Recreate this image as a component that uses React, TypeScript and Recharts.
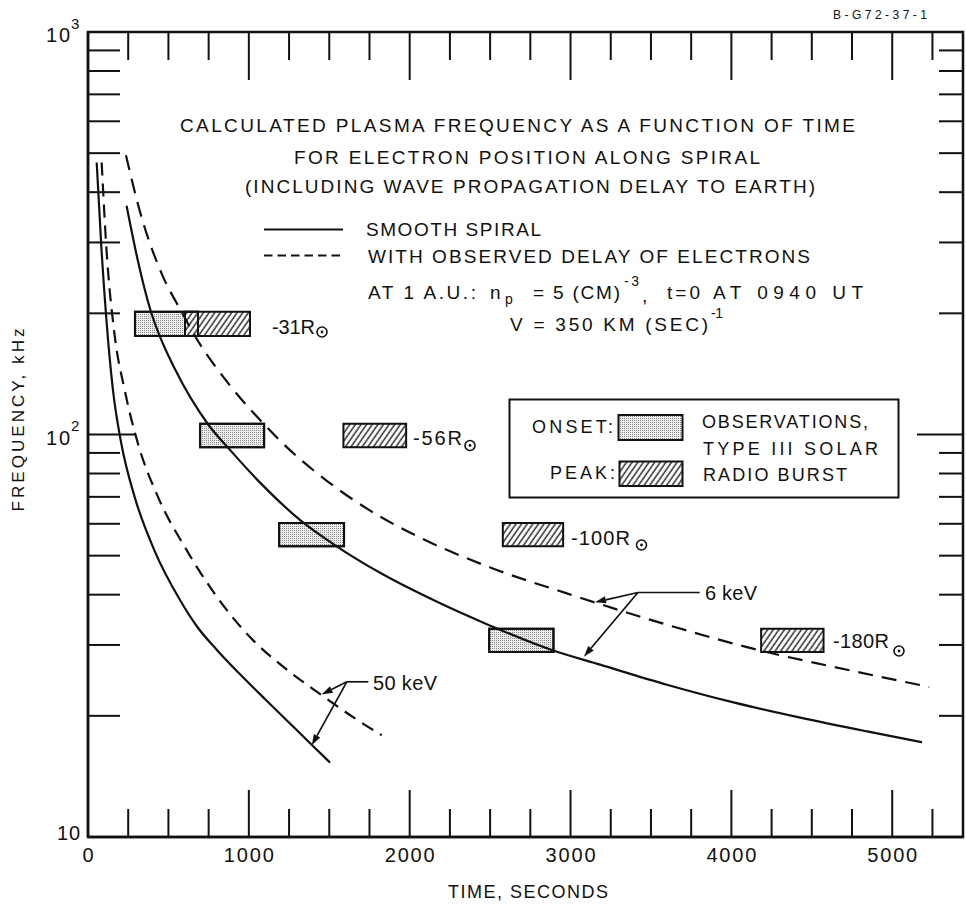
import React from 'react';
import { LineChart, Line, XAxis, YAxis, ReferenceArea, ReferenceLine } from 'recharts';

// ---------- data (time in seconds, frequency in kHz) ----------
const s50Time = [54, 83, 114, 155, 207, 290, 414, 572, 680, 800, 950, 1111, 1381, 1505];
const s50Freq = [474, 292, 194, 129, 95, 70, 51.4, 38.8, 33.25, 29.2, 25.26, 21.8, 17.1, 15.3];
const d50Time = [85, 114, 166, 228, 311, 435, 616, 830, 1027, 1213, 1453, 1669, 1826];
const d50Freq = [474, 292, 176, 129, 94.8, 70, 51.4, 38.1, 30.8, 26.5, 22.5, 19.6, 17.9];
const s6Time = [240, 306, 393, 445, 538, 745, 891, 1076, 1325, 1532, 1830, 2170, 2494, 2888, 3184, 3599, 4013, 4428, 4843, 5185];
const s6Freq = [370, 275, 201, 176, 146, 106.2, 90.8, 75.5, 61.0, 53.2, 45.0, 38.4, 33.6, 29.1, 26.8, 23.9, 21.6, 19.8, 18.3, 17.2];
const d6Time = [236, 323, 460, 581, 665, 882, 1089, 1284, 1401, 1657, 1814, 2070, 2509, 2977, 3675, 4174, 4629, 5230];
const d6Freq = [494, 358, 250, 202, 175.7, 132.5, 106.6, 89.3, 81.5, 68.5, 62.6, 55.3, 46.6, 40.3, 33.0, 29.1, 26.5, 23.6];

// observed type III burst: onset and peak windows for each frequency band
const burstLabels = ['-31', '-56', '-100', '-180'];
const bandLow = [175.7, 93, 52.8, 28.8];
const bandHigh = [201.9, 106.3, 60.3, 32.9];
const onsetStart = [292, 697, 1188, 2494];
const onsetEnd = [684, 1095, 1592, 2894];
const peakStart = [603, 1588, 2579, 4185];
const peakEnd = [1007, 1978, 2954, 4573];

// energy annotations (arrows to curves)
const energyLabels = ['50 keV', '6 keV'];
const apexTime = [1609, 3419];
const apexFreq = [24.3, 40.5];
const leaderEndTime = [1743, 3803];
const dashedTipTime = [1453, 3152];
const dashedTipFreq = [22.6, 38.3];
const solidTipTime = [1391, 3083];
const solidTipFreq = [16.9, 28.05];

// axes
const timeDomain = [0, 5440];
const freqDomain = [10, 1000];
const timeTicks = [0, 250, 500, 750, 1000, 1250, 1500, 1750, 2000, 2250, 2500, 2750, 3000, 3250, 3500, 3750, 4000, 4250, 4500, 4750, 5000, 5250];
const freqTicks = [10, 20, 30, 40, 50, 60, 70, 80, 90, 100, 200, 300, 400, 500, 600, 700, 800, 900, 1000];

const toPts = (ts: number[], fs: number[]) => ts.map((t, i) => ({ t, f: fs[i] }));

// ---------- layout / style ----------
const W = 966;
const H = 904;
const PLOT_TOP = 32;
const PLOT_LEFT = 88;
const PLOT_RIGHT = 963;
const PLOT_BOTTOM = 837;
const INK = '#111';
const FONT = '"Liberation Sans", Arial, Helvetica, sans-serif';

const XTick = (props: any) => {
  const { x, payload } = props;
  const v = payload.value;
  const major = v % 1000 === 0;
  return (
    <g>
      {v !== 0 && (
        <line x1={x} y1={PLOT_BOTTOM} x2={x} y2={PLOT_BOTTOM - (major ? 47 : 28)} stroke={INK} strokeWidth={2} />
      )}
      {v !== 0 && (
        <line x1={x} y1={PLOT_TOP} x2={x} y2={PLOT_TOP + (major ? 48 : 28)} stroke={INK} strokeWidth={2} />
      )}
      {major && (
        <text
          x={x}
          y={855}
          textAnchor="middle"
          dominantBaseline="central"
          fontSize={20}
          fontFamily={FONT}
          fill={INK}
          textLength={v === 0 ? undefined : 50}
          lengthAdjust="spacing"
        >
          {String(v)}
        </text>
      )}
    </g>
  );
};

const YTick = (props: any) => {
  const { y, payload } = props;
  const v = payload.value;
  const major = v === 100;
  const edge = v === 10 || v === 1000;
  let label: any = null;
  if (v === 10) {
    label = (
      <text x={57} y={y - 4} dominantBaseline="central" fontSize={20} fontFamily={FONT} fill={INK} textLength={23} lengthAdjust="spacing">
        10
      </text>
    );
  } else if (v === 100 || v === 1000) {
    label = (
      <g>
        <text x={46} y={y + 3} dominantBaseline="central" fontSize={20} fontFamily={FONT} fill={INK} textLength={24} lengthAdjust="spacing">
          10
        </text>
        <text x={71} y={y - 9} dominantBaseline="central" fontSize={15} fontFamily={FONT} fill={INK}>
          {v === 100 ? '2' : '3'}
        </text>
      </g>
    );
  }
  return (
    <g>
      {!edge && (
        <line x1={PLOT_LEFT} y1={y} x2={PLOT_LEFT + (major ? 48 : 32)} y2={y} stroke={INK} strokeWidth={2} />
      )}
      {!edge && (
        <line x1={PLOT_RIGHT} y1={y} x2={PLOT_RIGHT - (major ? 46 : 24)} y2={y} stroke={INK} strokeWidth={2} />
      )}
      {label}
    </g>
  );
};

const ArrowShape = (props: any) => {
  const x1 = props.x1 ?? props.points?.[0]?.x;
  const y1 = props.y1 ?? props.points?.[0]?.y;
  const x2 = props.x2 ?? props.points?.[1]?.x;
  const y2 = props.y2 ?? props.points?.[1]?.y;
  if ([x1, y1, x2, y2].some((n) => typeof n !== 'number' || isNaN(n))) return null;
  const ang = Math.atan2(y2 - y1, x2 - x1);
  const L = 11;
  const Wd = 3.6;
  const bx = x2 - L * Math.cos(ang);
  const by = y2 - L * Math.sin(ang);
  const px = -Math.sin(ang) * Wd;
  const py = Math.cos(ang) * Wd;
  return (
    <g>
      <line x1={x1} y1={y1} x2={bx} y2={by} stroke={INK} strokeWidth={1.7} />
      <polygon points={`${x2},${y2} ${bx + px},${by + py} ${bx - px},${by - py}`} fill={INK} />
    </g>
  );
};

const T = ({ x, y, w, s = 19, children }: any) => (
  <text
    x={x}
    y={y}
    fontSize={s}
    fontFamily={FONT}
    fill={INK}
    dominantBaseline="central"
    textLength={w}
    lengthAdjust="spacing"
  >
    {children}
  </text>
);

const Sun = ({ cx, cy }: any) => (
  <g>
    <circle cx={cx} cy={cy} r={5} fill="none" stroke={INK} strokeWidth={1.6} />
    <circle cx={cx} cy={cy} r={1.4} fill={INK} />
  </g>
);

// pixel positions of the burst labels (text layout only)
const burstLabelX = [272, 413, 571, 833];
const burstLabelW = [43, 49, 59, 56];
const burstLabelY = [327, 438, 538, 641];
const sunX = [322, 470, 641.5, 899];
const sunY = [332, 445.5, 545, 651];

export default function App() {
  const s50 = toPts(s50Time, s50Freq);
  const d50 = toPts(d50Time, d50Freq);
  const s6 = toPts(s6Time, s6Freq);
  const d6 = toPts(d6Time, d6Freq);

  return (
    <div style={{ position: 'absolute', left: 0, top: 0, width: W, height: H, background: '#fff' }}>
      <svg width={0} height={0} style={{ position: 'absolute' }}>
        <defs>
          <pattern id="stipple" patternUnits="userSpaceOnUse" width={2} height={2}>
            <rect width={2} height={2} fill="#eeeeee" />
            <rect width={1} height={1} fill="#8a8a8a" />
          </pattern>
          <pattern id="hatch" patternUnits="userSpaceOnUse" width={4.6} height={10} patternTransform="rotate(35)">
            <rect width={4.6} height={10} fill="#fff" />
            <line x1={1} y1={0} x2={1} y2={10} stroke={INK} strokeWidth={1.3} />
          </pattern>
        </defs>
      </svg>
      <LineChart width={W} height={H} margin={{ top: PLOT_TOP, right: W - PLOT_RIGHT, bottom: 0, left: 0 }}>
        <XAxis
          dataKey="t"
          type="number"
          domain={timeDomain}
          ticks={timeTicks}
          interval={0}
          tick={XTick}
          tickLine={false}
          tickSize={0}
          tickMargin={0}
          axisLine={{ stroke: INK, strokeWidth: 2.5 }}
          height={H - PLOT_BOTTOM}
          allowDataOverflow
        />
        <YAxis
          type="number"
          scale="log"
          domain={freqDomain}
          ticks={freqTicks}
          interval={0}
          tick={YTick}
          tickLine={false}
          tickSize={0}
          tickMargin={0}
          axisLine={{ stroke: INK, strokeWidth: 2.5 }}
          width={PLOT_LEFT}
          allowDataOverflow
        />
        <ReferenceArea
          x1={timeDomain[0]}
          x2={timeDomain[1]}
          y1={freqDomain[0]}
          y2={freqDomain[1]}
          fill="none"
          fillOpacity={0}
          stroke={INK}
          strokeWidth={2.5}
          ifOverflow="visible"
        />
        {burstLabels.map((lab, i) => (
          <ReferenceArea
            key={'on' + lab}
            x1={onsetStart[i]}
            x2={onsetEnd[i]}
            y1={bandLow[i]}
            y2={bandHigh[i]}
            fill="url(#stipple)"
            fillOpacity={1}
            stroke={INK}
            strokeWidth={2}
          />
        ))}
        {burstLabels.map((lab, i) => (
          <ReferenceArea
            key={'pk' + lab}
            x1={peakStart[i]}
            x2={peakEnd[i]}
            y1={bandLow[i]}
            y2={bandHigh[i]}
            fill="url(#hatch)"
            fillOpacity={1}
            stroke={INK}
            strokeWidth={2}
          />
        ))}
        {burstLabels.map((lab, i) => (
          <ReferenceArea
            key={'onb' + lab}
            x1={onsetStart[i]}
            x2={onsetEnd[i]}
            y1={bandLow[i]}
            y2={bandHigh[i]}
            fill="none"
            fillOpacity={0}
            stroke={INK}
            strokeWidth={2}
          />
        ))}
        <Line data={s50} dataKey="f" type="monotone" stroke={INK} strokeWidth={2.2} dot={false} activeDot={false} isAnimationActive={false} />
        <Line data={d50} dataKey="f" type="monotone" stroke={INK} strokeWidth={2.2} strokeDasharray="13 8" dot={false} activeDot={false} isAnimationActive={false} />
        <Line data={s6} dataKey="f" type="monotone" stroke={INK} strokeWidth={2.2} dot={false} activeDot={false} isAnimationActive={false} />
        <Line data={d6} dataKey="f" type="monotone" stroke={INK} strokeWidth={2.2} strokeDasharray="15 9" dot={false} activeDot={false} isAnimationActive={false} />
        {energyLabels.map((lab, i) => (
          <ReferenceLine
            key={'ld' + lab}
            segment={[
              { x: apexTime[i], y: apexFreq[i] },
              { x: leaderEndTime[i], y: apexFreq[i] },
            ]}
            stroke={INK}
            strokeWidth={1.7}
          />
        ))}
        {energyLabels.map((lab, i) => (
          <ReferenceLine
            key={'ad' + lab}
            segment={[
              { x: apexTime[i], y: apexFreq[i] },
              { x: dashedTipTime[i], y: dashedTipFreq[i] },
            ]}
            shape={ArrowShape}
          />
        ))}
        {energyLabels.map((lab, i) => (
          <ReferenceLine
            key={'as' + lab}
            segment={[
              { x: apexTime[i], y: apexFreq[i] },
              { x: solidTipTime[i], y: solidTipFreq[i] },
            ]}
            shape={ArrowShape}
          />
        ))}
      </LineChart>

      <svg
        width={W}
        height={H}
        style={{ position: 'absolute', left: 0, top: 0, pointerEvents: 'none' }}
      >
        <T x={833} y={15} w={94} s={12}>B-G72-37-1</T>

        <T x={180} y={125} w={675}>CALCULATED PLASMA FREQUENCY AS A FUNCTION OF TIME</T>
        <T x={294} y={157} w={466}>FOR ELECTRON POSITION ALONG SPIRAL</T>
        <T x={245} y={186} w={570}>(INCLUDING WAVE PROPAGATION DELAY TO EARTH)</T>

        <line x1={264} y1={229.5} x2={343} y2={229.5} stroke={INK} strokeWidth={2} />
        <T x={366} y={229} w={175}>SMOOTH SPIRAL</T>
        <line x1={264} y1={255.5} x2={343} y2={255.5} stroke={INK} strokeWidth={2} strokeDasharray="8.5 5" />
        <T x={368} y={256} w={442}>WITH OBSERVED DELAY OF ELECTRONS</T>

        <T x={368} y={292} w={108}>AT 1 A.U.:</T>
        <T x={490} y={292} w={13}>n</T>
        <T x={505} y={299} w={11} s={14}>p</T>
        <T x={533} y={292} w={87}>= 5 (CM)</T>
        <T x={624} y={281} w={15} s={14}>-3</T>
        <T x={642} y={295}>,</T>
        <T x={667} y={292} w={33}>t=0</T>
        <T x={713} y={292} w={150}>AT 0940 UT</T>
        <T x={510} y={324} w={198}>V = 350 KM (SEC)</T>
        <T x={711} y={313} w={12} s={14}>-1</T>

        {burstLabels.map((lab, i) => (
          <g key={'bl' + lab}>
            <T x={burstLabelX[i]} y={burstLabelY[i]} w={burstLabelW[i]} s={20}>{lab + 'R'}</T>
            <Sun cx={sunX[i]} cy={sunY[i]} />
          </g>
        ))}

        <rect x={509.5} y={399.5} width={389} height={98} fill="none" stroke={INK} strokeWidth={2} />
        <rect x={618.5} y={415} width={64} height={25} fill="url(#stipple)" stroke={INK} strokeWidth={2} />
        <rect x={619.5} y={461.5} width={63} height={24.5} fill="url(#hatch)" stroke={INK} strokeWidth={2} />
        <T x={532} y={427} w={81} s={18}>ONSET:</T>
        <T x={550} y={473} w={65} s={18}>PEAK:</T>
        <T x={702} y={422} w={166} s={18}>OBSERVATIONS,</T>
        <T x={703} y={449} w={175} s={18}>TYPE III SOLAR</T>
        <T x={703} y={475} w={144} s={18}>RADIO BURST</T>

        <T x={373} y={683} w={64} s={20}>50 keV</T>
        <T x={705} y={593} w={52} s={20}>6 keV</T>

        <T x={448} y={892} w={160} s={18}>TIME, SECONDS</T>
        <g transform="translate(18,420) rotate(-90)">
          <text x={0} y={0} textAnchor="middle" dominantBaseline="central" fontSize={17} fontFamily={FONT} fill={INK} textLength={183} lengthAdjust="spacing">
            FREQUENCY, kHz
          </text>
        </g>
      </svg>
    </div>
  );
}
